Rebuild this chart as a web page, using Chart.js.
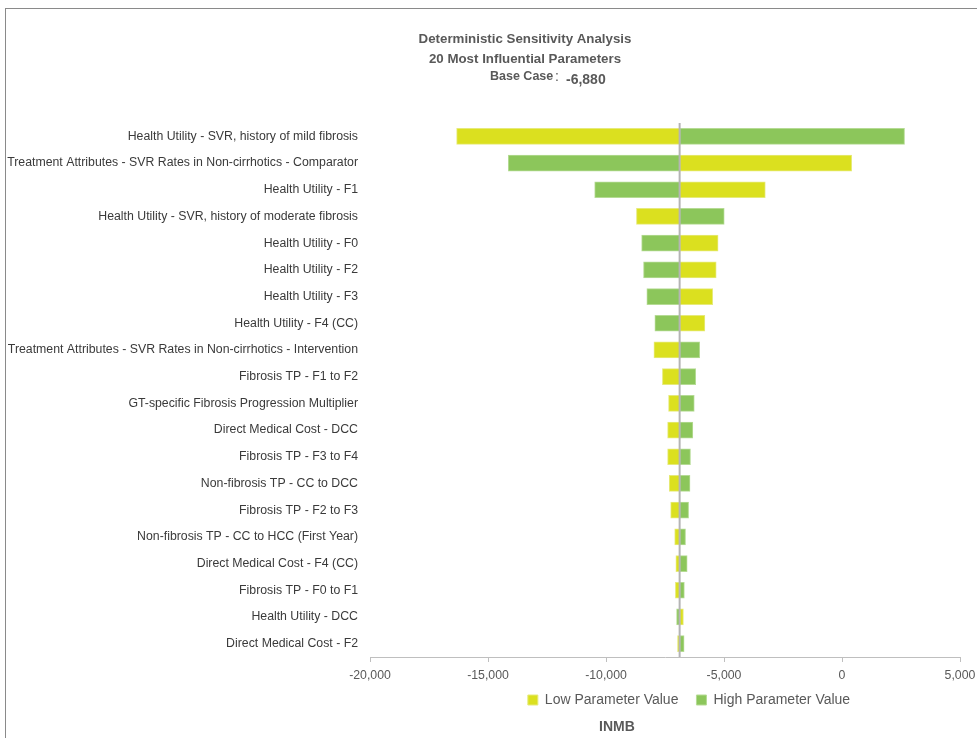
<!DOCTYPE html>
<html>
<head>
<meta charset="utf-8">
<script src="https://cdn.jsdelivr.net/npm/chart.js@4/dist/chart.umd.min.js"></script>
<style>
	body { margin: 0; background: #ffffff; overflow: hidden; }
	#frame { position: absolute; left: 5px; top: 8px; width: 990px; height: 760px; border-left: 1px solid #8a8a8a; border-top: 1px solid #8a8a8a; }
	#tornado { position: absolute; left: 0; top: 0; }
</style>
</head>
<body>
<div id="frame"></div>
<canvas id="tornado" width="977" height="738"></canvas>
<script>
// Parameters, top to bottom
var parameters = [
	"Health Utility - SVR, history of mild fibrosis",
	"Treatment Attributes - SVR Rates in Non-cirrhotics - Comparator",
	"Health Utility - F1",
	"Health Utility - SVR, history of moderate fibrosis",
	"Health Utility - F0",
	"Health Utility - F2",
	"Health Utility - F3",
	"Health Utility - F4 (CC)",
	"Treatment Attributes - SVR Rates in Non-cirrhotics - Intervention",
	"Fibrosis TP - F1 to F2",
	"GT-specific Fibrosis Progression Multiplier",
	"Direct Medical Cost - DCC",
	"Fibrosis TP - F3 to F4",
	"Non-fibrosis TP - CC to DCC",
	"Fibrosis TP - F2 to F3",
	"Non-fibrosis TP - CC to HCC (First Year)",
	"Direct Medical Cost - F4 (CC)",
	"Fibrosis TP - F0 to F1",
	"Health Utility - DCC",
	"Direct Medical Cost - F2"
];

// INMB at the low / high parameter value
var lowValues = [-16330, 410, -3250, -8710, -5250, -5330, -5480, -5810, -7970, -7610,
	-7350, -7390, -7390, -7320, -7260, -7090, -7040, -7060, -6720, -6970];
var highValues = [2650, -14140, -10480, -4990, -8490, -8410, -8270, -7930, -6030, -6200,
	-6260, -6320, -6420, -6440, -6500, -6630, -6560, -6680, -7010, -6690];

var baseCase = -6880;

// Axis range
var xMin = -20000;
var xMax = 5000;
var xStep = 5000;

var titleLines = ["Deterministic Sensitivity Analysis", "20 Most Influential Parameters"];
var baseCaseLabel = "Base Case";
var axisTitle = "INMB";

var textGrey = "#595959";
var fontFamily = "'Liberation Sans', Arial, sans-serif";

// Draws the headings, the base case line and the axis title
var extrasPlugin = {
	id: "extras",
	afterLayout: function(chart) {
		// legend sits a little right of the plot centre and tight under the ticks in the original
		chart.legend.left += 24;
		chart.legend.right += 24;
		chart.legend.top -= 12;
		chart.legend.bottom -= 12;
	},
	afterDatasetsDraw: function(chart) {
		var ctx = chart.ctx;
		var area = chart.chartArea;
		var x = chart.scales.x.getPixelForValue(baseCase);
		ctx.save();
		ctx.strokeStyle = "#b4b4b4";
		ctx.lineWidth = 2;
		ctx.beginPath();
		ctx.moveTo(x, area.top);
		ctx.lineTo(x, area.bottom);
		ctx.stroke();
		ctx.restore();
	},
	afterDraw: function(chart) {
		var ctx = chart.ctx;
		ctx.save();
		ctx.fillStyle = textGrey;
		ctx.textBaseline = "middle";
		ctx.textAlign = "center";
		ctx.font = "bold 13.3px " + fontFamily;
		ctx.fillText(titleLines[0], 525, 39);
		ctx.fillText(titleLines[1], 525, 59);
		ctx.textAlign = "left";
		ctx.font = "bold 12.5px " + fontFamily;
		ctx.fillText(baseCaseLabel, 490, 77);
		ctx.font = "14px " + fontFamily;
		ctx.fillText(":", 555, 77);
		ctx.font = "bold 14px " + fontFamily;
		ctx.fillText(baseCase.toLocaleString("en-US"), 566, 80);
		ctx.textAlign = "center";
		ctx.fillText(axisTitle, 617, 727);
		ctx.restore();
	}
};

var ctx = document.getElementById("tornado").getContext("2d");

var chart = new Chart(ctx, {
	type: "bar",
	data: {
		labels: parameters,
		datasets: [{
			label: "Low Parameter Value",
			data: lowValues.map(function(v) { return [baseCase, v]; }),
			backgroundColor: "#dbe01f",
			borderColor: "#e6ea7a",
			borderWidth: 1,
			borderSkipped: false,
			grouped: false,
			barThickness: 16
		}, {
			label: "High Parameter Value",
			data: highValues.map(function(v) { return [baseCase, v]; }),
			backgroundColor: "#8cc65b",
			borderColor: "#b5db94",
			borderWidth: 1,
			borderSkipped: false,
			grouped: false,
			barThickness: 16
		}]
	},
	options: {
		indexAxis: "y",
		responsive: false,
		animation: false,
		layout: {
			padding: { top: 123, right: 17, bottom: 9, left: 0 }
		},
		scales: {
			x: {
				min: xMin,
				max: xMax,
				ticks: {
					stepSize: xStep,
					color: textGrey,
					font: { size: 12.3, family: fontFamily },
					padding: 6,
					maxRotation: 0,
					callback: function(v) { return Number(v).toLocaleString("en-US"); }
				},
				grid: { drawOnChartArea: false, drawTicks: true, tickLength: 5, color: "#bfbfbf" },
				border: { color: "#bfbfbf" },
				afterFit: function(scale) {
					scale.height = 30;
					scale.paddingRight = 0;
					scale.paddingLeft = 0;
				}
			},
			y: {
				grid: { display: false },
				border: { display: false },
				ticks: {
					color: "#3a3a3a",
					font: { size: 12.3, family: fontFamily },
					padding: 4
				},
				afterFit: function(scale) { scale.width = 370; }
			}
		},
		plugins: {
			legend: {
				position: "bottom",
				fullSize: false,
				labels: {
					boxWidth: 10,
					boxHeight: 10,
					color: textGrey,
					padding: 18,
					font: { size: 14, family: fontFamily }
				}
			},
			title: { display: false },
			tooltip: { enabled: false }
		}
	},
	plugins: [extrasPlugin]
});
</script>
</body>
</html>
